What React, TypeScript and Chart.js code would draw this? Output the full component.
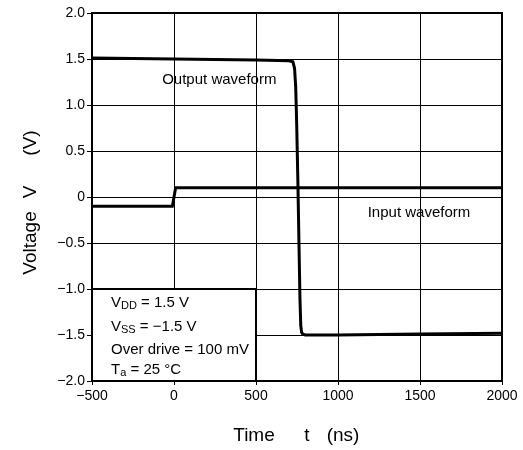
import React, { useEffect, useRef } from "react";
import { Chart, registerables } from "chart.js";

Chart.register(...registerables);

const outputT = [-500, 0, 500, 700, 725, 735, 742, 748, 755, 762, 768, 773, 778, 785, 800, 1000, 1500, 2000];
const outputV = [1.51, 1.5, 1.49, 1.48, 1.47, 1.4, 1.2, 0.8, 0.2, -0.5, -1.1, -1.4, -1.47, -1.49, -1.5, -1.5, -1.49, -1.48];
const inputT = [-500, -10, 10, 2000];
const inputV = [-0.1, -0.1, 0.1, 0.1];
const xTicks = [-500, 0, 500, 1000, 1500, 2000];
const yTicks = [-2.0, -1.5, -1.0, -0.5, 0, 0.5, 1.0, 1.5, 2.0];
const noteLines: [string, string, string][] = [
  ["V", "DD", " = 1.5 V"],
  ["V", "SS", " = \u22121.5 V"],
  ["Over drive = 100 mV", "", ""],
  ["T", "a", " = 25 \u00b0C"],
];
const xTitleParts = ["Time", "t", "(ns)"];
const yTitleParts = ["Voltage", "V", "(V)"];
const outputLabel = "Output waveform";
const inputLabel = "Input waveform";

const FONT = "'Liberation Sans', Arial, sans-serif";

const fmt = (v: number, dec: number) => {
  if (v === 0) return "0";
  const s = Math.abs(v).toFixed(dec);
  return v < 0 ? "\u2212" + s : s;
};

export default function App() {
  const ref = useRef<HTMLCanvasElement>(null);
  useEffect(() => {
    document.body.style.margin = "0";
    const canvas = ref.current!;
    const overlay = {
      id: "overlay",
      afterDraw(chart: any) {
        const ctx = chart.ctx as CanvasRenderingContext2D;
        const xs = chart.scales.x;
        const ys = chart.scales.y;
        ctx.save();
        // note box
        const x0 = xs.getPixelForValue(-500);
        const x1 = xs.getPixelForValue(500);
        const y0 = ys.getPixelForValue(-1.0);
        const y1 = ys.getPixelForValue(-2.0);
        ctx.fillStyle = "#fff";
        ctx.fillRect(x0, y0, x1 - x0, y1 - y0);
        ctx.strokeStyle = "#000";
        ctx.lineWidth = 2;
        ctx.strokeRect(x0, y0, x1 - x0, y1 - y0);
        ctx.fillStyle = "#000";
        ctx.textBaseline = "middle";
        ctx.textAlign = "left";
        const lineYs = [-1.15, -1.41, -1.66, -1.88];
        noteLines.forEach((ln, i) => {
          const y = ys.getPixelForValue(lineYs[i]);
          let x = x0 + 19;
          ctx.font = `15px ${FONT}`;
          ctx.fillText(ln[0], x, y);
          x += ctx.measureText(ln[0]).width;
          if (ln[1]) {
            ctx.font = `11px ${FONT}`;
            ctx.fillText(ln[1], x, y + 3);
            x += ctx.measureText(ln[1]).width;
          }
          ctx.font = `15px ${FONT}`;
          ctx.fillText(ln[2], x, y);
        });
        // waveform labels
        ctx.font = `15px ${FONT}`;
        ctx.fillText(outputLabel, xs.getPixelForValue(-72), ys.getPixelForValue(1.27));
        ctx.fillText(inputLabel, xs.getPixelForValue(1181), ys.getPixelForValue(-0.17));
        // axis titles
        ctx.font = `19px ${FONT}`;
        ctx.textAlign = "center";
        const xCenters = [254, 307, 343];
        xTitleParts.forEach((p, i) => ctx.fillText(p, xCenters[i], 436));
        const yCenters = [243, 192, 143];
        yTitleParts.forEach((p, i) => {
          ctx.save();
          ctx.translate(31, yCenters[i]);
          ctx.rotate(-Math.PI / 2);
          ctx.fillText(p, 0, 0);
          ctx.restore();
        });
        ctx.restore();
      },
    };
    const chart = new Chart(canvas, {
      type: "line",
      data: {
        datasets: [
          {
            data: outputT.map((t, i) => ({ x: t, y: outputV[i] })),
            borderColor: "#000",
            borderWidth: 3,
            pointRadius: 0,
            tension: 0,
            fill: false,
          },
          {
            data: inputT.map((t, i) => ({ x: t, y: inputV[i] })),
            borderColor: "#000",
            borderWidth: 3,
            pointRadius: 0,
            tension: 0,
            fill: false,
          },
        ],
      },
      options: {
        animation: false,
        responsive: false,
        devicePixelRatio: 1,
        layout: { padding: { top: 13, right: 21, left: 0, bottom: 0 } },
        plugins: { legend: { display: false }, tooltip: { enabled: false } },
        scales: {
          x: {
            type: "linear",
            min: -500,
            max: 2000,
            afterBuildTicks: (s: any) => {
              s.ticks = xTicks.map((v) => ({ value: v }));
            },
            afterFit: (s: any) => {
              s.height = 69;
            },
            ticks: {
              color: "#000",
              font: { family: FONT, size: 14 },
              padding: 3,
              maxRotation: 0,
              callback: (v: any) => fmt(Number(v), 0),
            },
            grid: { color: "#000", lineWidth: 1, tickLength: 4 },
            border: { color: "#000", width: 2 },
          },
          y: {
            type: "linear",
            min: -2,
            max: 2,
            afterBuildTicks: (s: any) => {
              s.ticks = yTicks.map((v) => ({ value: v }));
            },
            afterFit: (s: any) => {
              s.width = 92;
            },
            ticks: {
              color: "#000",
              font: { family: FONT, size: 14 },
              padding: 2,
              callback: (v: any) => fmt(Number(v), 1),
            },
            grid: { color: "#000", lineWidth: 1, tickLength: 5 },
            border: { color: "#000", width: 2 },
          },
        },
      },
      plugins: [
        overlay,
        {
          id: "frame",
          afterDatasetsDraw(chart: any) {
            const { left, right, top, bottom } = chart.chartArea;
            const ctx = chart.ctx;
            ctx.save();
            ctx.strokeStyle = "#000";
            ctx.lineWidth = 2;
            ctx.strokeRect(left, top, right - left, bottom - top);
            ctx.restore();
          },
        },
      ],
    });
    return () => chart.destroy();
  }, []);
  return (
    <div style={{ width: 523, height: 450, background: "#fff" }}>
      <canvas ref={ref} width={523} height={450} style={{ display: "block" }} />
    </div>
  );
}
